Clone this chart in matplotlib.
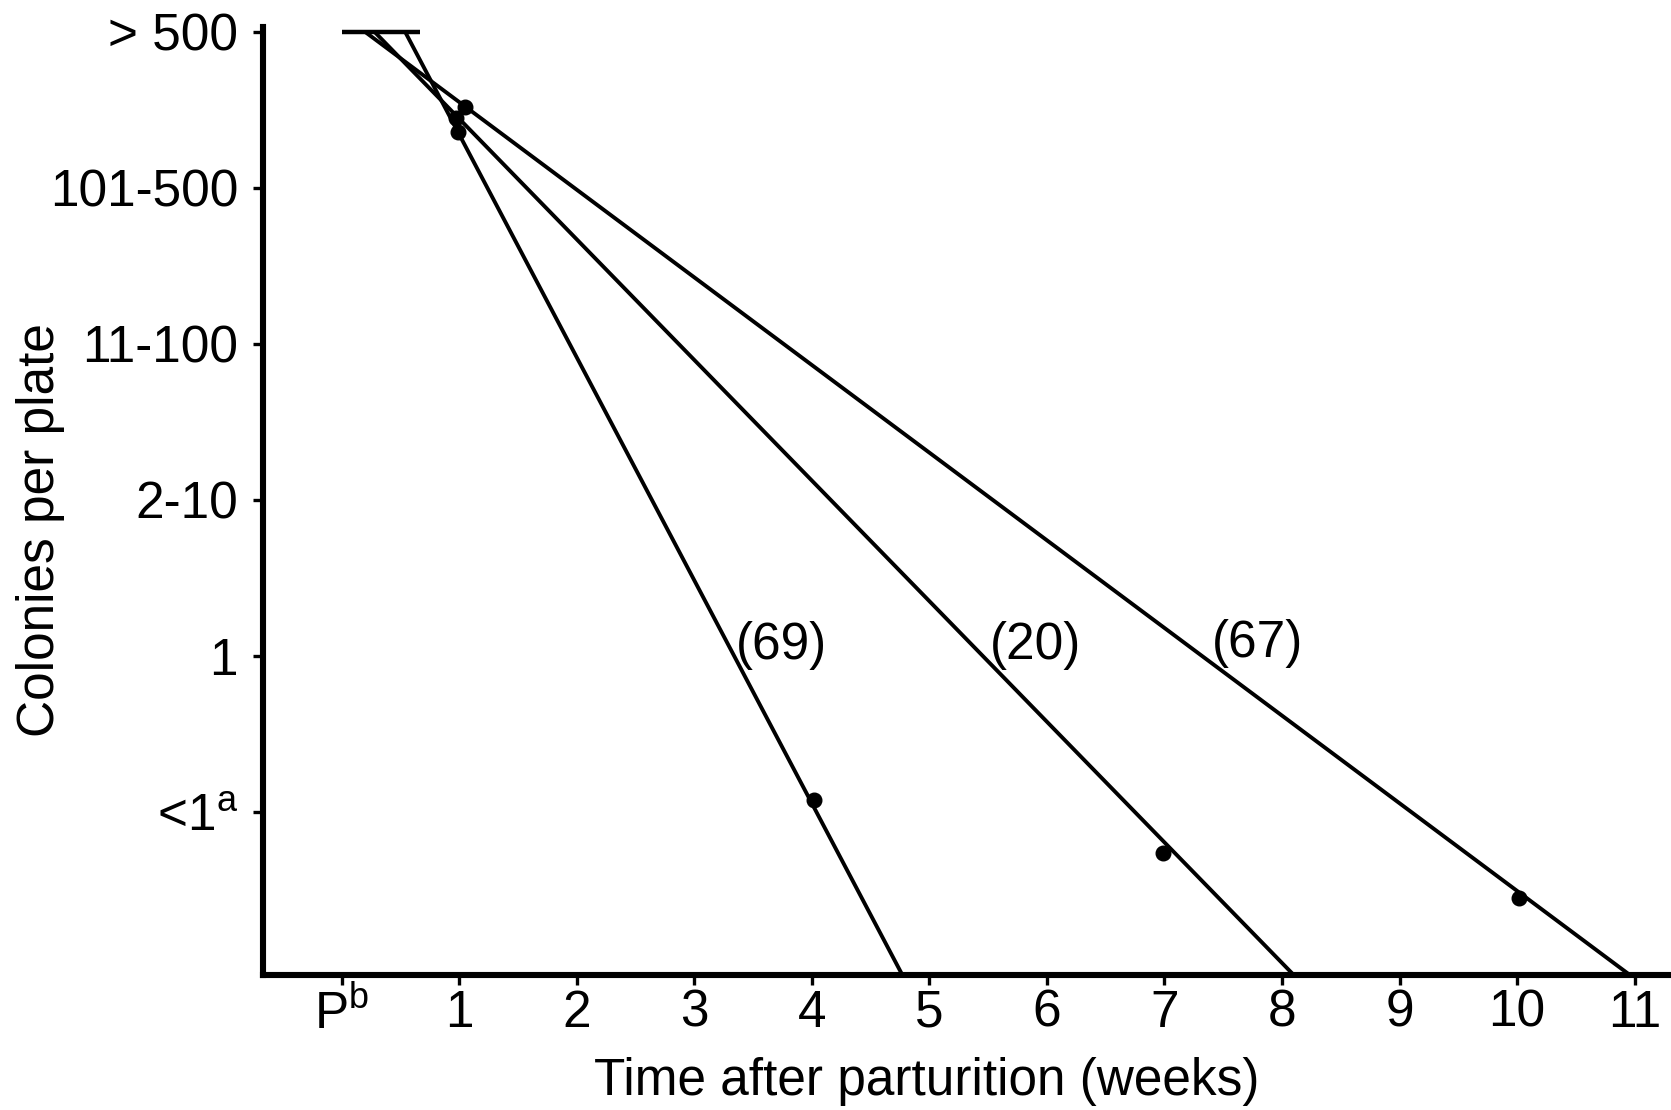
import matplotlib
matplotlib.use("Agg")
import matplotlib.pyplot as plt

# -----------------------
# Data
# -----------------------
# y levels are ordinal classes: 0 = "<1", 1 = "1", 2 = "2-10", ... 5 = ">500"
y_levels = [0, 1, 2, 3, 4, 5]
y_labels = [r"<1$^{\mathregular{a}}$", "1", "2-10", "11-100", "101-500", "> 500"]
x_weeks = [0, 1, 2, 3, 4, 5, 6, 7, 8, 9, 10, 11]
x_labels = [r"P$^{\mathregular{b}}$"] + [str(w) for w in x_weeks[1:]]

# short horizontal start segment at ">500"
cap_x = [0.0, 0.67]
cap_y = [5.0, 5.0]

# fitted lines (start at ">500", run off the bottom of the axis)
line69_x = [0.54, 4.77]
line69_y = [5.0, -1.045]
line20_x = [0.28, 8.10]
line20_y = [5.0, -1.045]
line67_x = [0.20, 10.96]
line67_y = [5.0, -1.045]

# observed points
pts69_x = [0.99, 4.02]
pts69_y = [4.36, 0.08]
pts20_x = [0.97, 6.99]
pts20_y = [4.45, -0.26]
pts67_x = [1.05, 10.02]
pts67_y = [4.52, -0.55]

# group labels (number of animals)
group_labels = ["(69)", "(20)", "(67)"]
group_label_x = [3.74, 5.90, 7.79]
group_label_y = [1.07, 1.07, 1.08]

# -----------------------
# Plot
# -----------------------
plt.rcParams["font.family"] = ["Liberation Sans", "DejaVu Sans"]
plt.rcParams["mathtext.fontset"] = "custom"
plt.rcParams["mathtext.rm"] = "Liberation Sans"
fs = 37

fig = plt.figure(figsize=(16.71, 11.10), dpi=100)
ax = fig.add_axes([263 / 1671, 1 - 975 / 1110, 1 - 263 / 1671, (975 - 27) / 1110])

lw = 2.8
ax.plot(cap_x, cap_y, color="black", lw=3.2, solid_capstyle="butt", clip_on=False)
for lx, ly in [(line69_x, line69_y), (line20_x, line20_y), (line67_x, line67_y)]:
    ax.plot(lx, ly, color="black", lw=lw, solid_capstyle="butt")
for px, py in [(pts69_x, pts69_y), (pts20_x, pts20_y), (pts67_x, pts67_y)]:
    ax.plot(px, py, "o", color="black", ms=10.5, ls="none")

for txt, tx, ty in zip(group_labels, group_label_x, group_label_y):
    ax.text(tx, ty, txt, fontsize=fs, ha="center", va="center")

ax.set_xlim(-0.67, 11.31)
ax.set_ylim(-1.045, 5.032)

ax.set_xticks(x_weeks)
ax.set_xticklabels(x_labels, fontsize=fs)
ax.set_yticks(y_levels)
ax.set_yticklabels(y_labels, fontsize=fs)

for side in ("top", "right"):
    ax.spines[side].set_visible(False)
for side in ("left", "bottom"):
    ax.spines[side].set_linewidth(4.4)
ax.tick_params(axis="both", direction="out", length=7, width=2.4, color="black")
ax.tick_params(axis="x", pad=3)
ax.tick_params(axis="y", pad=11)

fig.text(927 / 1671, 1 - 1082 / 1110, "Time after parturition (weeks)",
         fontsize=fs, ha="center", va="center")
fig.text(41 / 1671, 1 - 530 / 1110, "Colonies per plate",
         fontsize=fs, ha="center", va="center", rotation=90)

fig.savefig("out.png", dpi=100, facecolor="white")
